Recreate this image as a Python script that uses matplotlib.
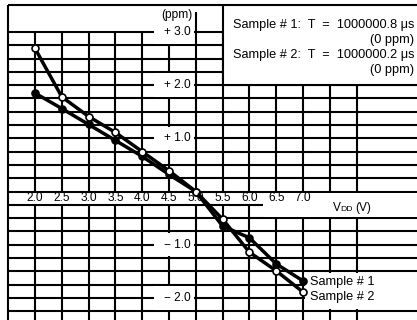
import numpy as np
import matplotlib
matplotlib.use("Agg")
import matplotlib.pyplot as plt
from matplotlib.patches import Rectangle

plt.rcParams['font.family'] = ['Liberation Sans', 'DejaVu Sans']

# adatok (ppm eltérés a tápfeszültség függvényében)
vdd = [2.0, 2.5, 3.0, 3.5, 4.0, 4.5, 5.0, 5.5, 6.0, 6.5, 7.0]
sample1 = [1.85, 1.56, 1.26, 0.96, 0.66, 0.32, 0.0, -0.65, -0.87, -1.36, -1.68]
sample2 = [2.69, 1.78, 1.41, 1.11, 0.75, 0.39, 0.0, -0.52, -1.14, -1.49, -1.89]
x_ticks = [2.0, 2.5, 3.0, 3.5, 4.0, 4.5, 5.0, 5.5, 6.0, 6.5, 7.0]
y_ticks = [3.0, 2.0, 1.0, -1.0, -2.0]
y_tick_labels = ["+ 3.0", "+ 2.0", "+ 1.0", "\u2212 1.0", "\u2212 2.0"]
box_lines = ["Sample # 1:  T  =  1000000.8 \u03bcs", "(0 ppm)",
             "Sample # 2:  T  =  1000000.2 \u03bcs", "(0 ppm)"]

x0, x1 = 1.347, 9.127
y0, y1 = -2.415, 3.6
fs = 8.6
lw = 1.5

fig = plt.figure(figsize=(4.17, 3.2), dpi=100)
ax = fig.add_axes([0, 0, 1, 1])
ax.set_xlim(x0, x1)
ax.set_ylim(y0, y1)
ax.axis("off")

# vízszintes rácsvonalak
for y in np.arange(3.0, -2.3, -0.25):
    if abs(y + 0.25) < 1e-6:
        ax.hlines(y, 1.5, 6.25, color="k", lw=lw, zorder=1)
    else:
        ax.hlines(y, 1.5, x1, color="k", lw=lw, zorder=1)

# függőleges rácsvonalak (a feliratsávban megszakítva)
for x in np.arange(2.0, 8.01, 0.5):
    top = 3.38 if abs(x - 5.0) < 1e-6 else 3.0
    ax.vlines(x, 0.0, top, color="k", lw=lw, zorder=1)
    low = -0.5 if x > 6.3 else -0.25
    ax.vlines(x, y0, low, color="k", lw=lw, zorder=1)

# keret
ax.vlines(1.5, y0, 3.5, color="k", lw=lw, zorder=4)
ax.hlines(3.5, 1.5, x1, color="k", lw=lw, zorder=4)

# fehér dobozok a feliratok mögött
ax.add_patch(Rectangle((5.5, 2.0), x1 - 5.5, 1.5, facecolor="white", edgecolor="none", zorder=2))
ax.vlines(5.5, 2.0, 3.5, color="k", lw=lw, zorder=3)
ax.hlines(2.0, 5.5, x1, color="k", lw=lw, zorder=3)
ax.add_patch(Rectangle((7.03, -2.2), x1 - 7.03, 0.67, facecolor="white", edgecolor="none", zorder=2))
ax.add_patch(Rectangle((6.27, -0.47), x1 - 6.27, 0.44, facecolor="white", edgecolor="none", zorder=2))
for v in y_ticks:
    ax.add_patch(Rectangle((4.22, v - 0.22), 0.75, 0.44, facecolor="white", edgecolor="none", zorder=2))

# adatsorok
ax.plot(vdd, sample1, color="k", lw=2.5, marker="o", ms=5, mfc="k", mec="k", mew=1.2, zorder=5)
ax.plot(vdd, sample2, color="k", lw=2.5, marker="o", ms=5, mfc="white", mec="k", mew=1.2, zorder=6)

# tengelyfeliratok
for x in x_ticks:
    ax.text(x, -0.13, "%.1f" % x, ha="center", va="center", fontsize=fs, zorder=7)
for v, lab in zip(y_ticks, y_tick_labels):
    ax.text(4.9, v, lab, ha="right", va="center", fontsize=fs, zorder=7)
ax.text(4.93, 3.32, "(ppm)", ha="right", va="center", fontsize=fs, zorder=7)

ax.text(7.55, -0.31, "V", ha="left", va="center", fontsize=fs, zorder=7)
ax.text(7.69, -0.33, "DD", ha="left", va="center", fontsize=fs - 2.5, zorder=7)
ax.text(7.98, -0.31, "(V)", ha="left", va="center", fontsize=fs, zorder=7)

# jelmagyarázat doboz
bfs = 9.2
ax.text(5.69, 3.13, box_lines[0], ha="left", va="center", fontsize=bfs, zorder=7)
ax.text(9.07, 2.85, box_lines[1], ha="right", va="center", fontsize=bfs, zorder=7)
ax.text(5.69, 2.56, box_lines[2], ha="left", va="center", fontsize=bfs, zorder=7)
ax.text(9.07, 2.28, box_lines[3], ha="right", va="center", fontsize=bfs, zorder=7)

ax.text(7.13, sample1[-1] - 0.02, "Sample # 1", ha="left", va="center", fontsize=bfs, zorder=7)
ax.text(7.13, sample2[-1] - 0.09, "Sample # 2", ha="left", va="center", fontsize=bfs, zorder=7)

fig.savefig("out.png", dpi=100, facecolor="white")
